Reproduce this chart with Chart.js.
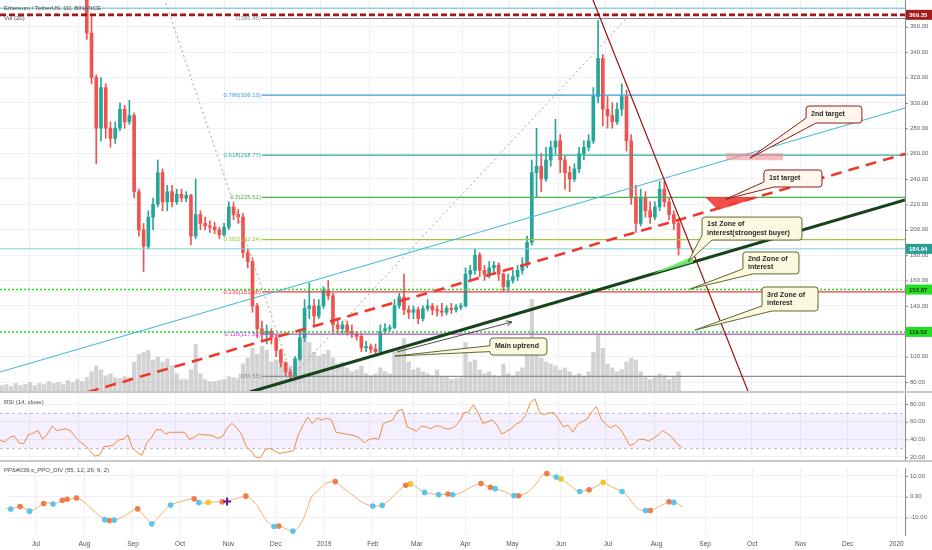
<!DOCTYPE html>
<html><head><meta charset="utf-8">
<script src="https://cdn.jsdelivr.net/npm/chart.js@4.4.1/dist/chart.umd.min.js"></script>
<style>
html,body{margin:0;padding:0;background:#fff;width:932px;height:550px;overflow:hidden}
canvas{position:absolute;left:0}
.sep{position:absolute;left:0;width:932px;height:2px;background:#c9c9c9}
</style></head><body>
<canvas id="main" width="932" height="391" style="top:0"></canvas>
<div class="sep" style="top:391px"></div>
<canvas id="rsi" width="932" height="67" style="top:393px"></canvas>
<div class="sep" style="top:460px"></div>
<canvas id="ppo" width="932" height="88" style="top:462px"></canvas>
<script>
// ---------- DATA ----------
const X_MIN = -19, X_MAX = 554.5;             // days since 2018-07-01
const MONTH_DAYS = [0,31,62,92,123,153,184,215,243,274,304,335,365,396,427,457,488,518,549];
const MONTH_LABELS = ['Jul','Aug','Sep','Oct','Nov','Dec','2019','Feb','Mar','Apr','May','Jun','Jul','Aug','Sep','Oct','Nov','Dec','2020'];
const PRICE_TICKS = [80,100,120,140,160,180,200,220,240,260,280,300,320,340,360];
const P_MIN = 72.95, P_MAX = 381.04;
const RSI_TICKS = [20,40,60,80];
const RSI_MIN = 16.58, RSI_MAX = 92.46;
const PPO_TICKS = [-10,0,10];
const PPO_MIN = -18.37, PPO_MAX = 13.83;

const CANDLE_START = 36, STEP = 3;
const OPEN = [408,355,320,280,312,280,272,280,295,285, 290,230,200,187,210,220,245,222,230,222, 228,225,227,195,212,205,203,202,200,196,
 202,218,212,210,182,175,140,122,118,120, 115,105,95,88,85,98,115,138,140,132, 140,152,148,125,122,125,120,118,116,107,
 108,106,104,120,122,123,140,147,137,135, 137,130,138,140,137,136,135,138,137,139, 140,165,168,180,168,165,170,172,165,155,
 160,163,168,172,190,245,250,240,255,265, 270,255,245,240,248,260,265,270,305,335, 295,290,285,295,305,270,225,205,225,215,
 210,218,232,222,212,205];
const HIGH = [412,368,322,320,315,285,285,300,298,302, 292,232,205,215,225,255,248,235,235,232, 232,230,228,240,215,210,207,206,202,205,
 222,222,216,213,185,178,142,128,125,122, 117,106,96,90,100,120,145,158,145,145, 155,160,150,130,128,128,125,120,118,112,
 110,110,125,126,125,145,150,165,140,140, 139,140,145,142,140,142,140,142,141,142, 170,172,185,182,172,175,175,174,166,165,
 168,172,178,195,255,280,260,265,270,287, 275,258,250,252,265,270,275,312,365,338, 305,300,300,315,310,275,235,232,230,222,
 222,238,238,225,215,207];
const LOW = [350,315,252,270,272,265,268,278,280,283, 225,195,167,185,200,218,215,215,218,220, 222,222,188,193,200,200,198,197,193,195,
 200,208,205,178,170,135,115,112,110,110, 100,92,85,82,83,97,112,130,125,130, 138,145,118,118,118,117,115,113,104,104,
 103,102,103,118,120,122,138,133,130,130, 126,128,136,133,132,132,133,134,135,137, 139,160,165,163,160,162,165,160,152,152,
 158,160,165,170,188,226,230,238,250,260, 245,232,230,238,245,255,262,268,300,282, 280,280,283,290,262,220,198,203,210,205,
 208,215,218,208,200,180];
const CLOSE = [355,320,280,312,280,272,280,295,285,290, 230,200,187,210,220,245,222,230,222,228, 225,227,195,212,205,203,202,200,196,202,
 218,212,210,182,175,140,122,118,120,115, 105,95,88,85,98,115,138,140,132,140, 152,148,125,122,125,120,118,116,107,108,
 106,104,120,122,123,140,147,137,135,137, 130,138,140,137,136,135,138,137,139,140, 165,168,180,168,165,170,172,165,155,160,
 163,168,172,190,245,250,240,255,265,270, 255,245,240,248,260,265,270,305,335,295, 290,285,295,305,270,225,205,225,215,210,
 218,232,222,212,205,184.94];

const VOL_START = -18;
const VOLUME = [6,7,5,8,6,7,9,6,8,7,10,8,9,7,11,9,12,10,
 14,20,26,22,16,18,14,13,15,14, 30,38,40,42,32,35,30,33,26,18, 12,12,22,48,18,12,10,10,11,12, 15,14,13,28,34,44,38,46,42,30,
 32,28,30,26,34,44,58,50,40,36, 38,42,34,28,30,24,20,22,26,18, 16,18,24,20,18,40,44,54,30,22, 24,20,18,16,22,14,15,12,13,14,
 50,30,32,22,18,20,16,15,28,18, 16,20,24,42,94,40,34,30,28,26, 22,24,20,16,18,15,20,40,58,44, 28,24,20,22,30,34,32,20,14,12,
 14,18,16,12,14,20];

const OSC_START = -19;
const RSI = [39,37,42,44,36,35,45,47,50,40, 46,55,50,51,52,49,42,37,33,27, 21,22,32,32,34,39,40,45,30,25,
 22,36,42,51,51,46,48,48,48,48, 40,42,46,45,45,44,41,43,53,58, 53,46,32,27,20,19,28,30,27,24,
 25,26,27,45,56,65,58,64,62,64, 62,48,47,46,45,44,41,36,40,41, 40,58,60,62,72,74,54,52,49,55,
 54,52,55,55,52,52,54,60,70,71, 79,70,58,60,62,56,46,49,52,57, 60,67,81,86,70,68,70,70,63,54,
 56,48,57,60,63,71,77,63,57,53, 56,52,43,33,35,40,40,38,41,45, 50,46,42,35,31];
const PPO = [-5.5,-5.9,-5.2,-4.7,-5.5,-6.9,-6.2,-4.7,-3.2,-2.9, -3.5,-2.8,-1.7,-1.2,-1.0,-0.6,-1.5,-3.2,-5.3,-7.4,
 -9.4,-11,-11.4,-11.2,-10.6,-9.5,-8.1,-6.5,-5.8,-8.2, -10.8,-13,-10.8,-8.4,-5.7,-4,-3.1,-2.4,-1.8,-1.2,
 -1,-2.8,-3.1,-2.6,-2.5,-2.4,-2.4,-2.3,-1.5,-0.8, -0.2,0.3,-1,-3.2,-6.4,-10.1,-13,-14.3,-14.1,-14.9,
 -15.8,-16.5,-15,-11.6,-6,0,2.3,4.4,6.3,7.1, 7.3,5.5,3.7,2,0.4,-1.5,-2.9,-3.9,-4.4,-4.4,
 -4.1,-2.5,-0.5,1.8,3.9,5.5,6.2,5.1,3.4,2.1, 1.6,1.3,1,1.1,1.3,1,1.2,2.2,3.5,4.8,
 5.8,6.4,5.4,4.6,3.9,3.2,2.5,1.5,0.6,0.5, 1.1,2.2,4.4,7,10.3,11.2,10.2,9.5,8.6,7,
 5.4,3.6,2.5,2.9,3.4,4.4,5.7,6.9,5.8,4.6, 3.5,2.5,0.6,-2.2,-5,-6.4,-6.6,-6.6,-5.7,-4.6,
 -3.4,-2.4,-2.7,-3.6,-4.8];
const PPO_BLUE_IDX = [1,5,10,21,23,31,35,41,57,61,78,80,89,92,95,104,108,117,122,131,136,142];
const PPO_ORANGE_IDX = [3,8,12,13,15,22,28,40,46,51,58,70,85,94,101,103,109,115,124,137,141];
const PPO_YELLOW_IDX = [43,86,118,127];
const PPO_CROSS_IDX = [47];

// drawings (day, price)
const H_LEVELS = [374.6, 369.35, 184.94, 152.87, 119.52];
const FIB_RATIOS = ['1','0.786','0.618','0.5','0.382','0.236','0.118','0'];
const FIB_PRICES = [366.46,306.13,258.77,225.51,192.24,151.08,117.82,84.55];
const FIB_START_DAY = 147;
const TREND_CYAN = [[-19,87.9],[554.5,296]];
const TREND_RED = [[36.8,72.2],[554.5,259.8]];
const TREND_GREEN = [[139.4,72.2],[554.5,223.5]];
const TREND_DARKRED = [[356.8,381],[455,72.8]];
const TREND_DOTTED = [[76,416],[166,84.55],[378,366.46]];
const ARROW_UP = [[232.6,103.7],[305.4,127.3]];
const PINK_ZONE = [441.1,260.3,477.2,254.8];
const RED_WEDGE = [[427.8,225.8],[462.6,225.8],[436.0,215.6]];
const GREEN_WEDGE = [[394.2,165.1],[420.2,179.3],[420.2,174.2]];
const CALLOUT_TEXT = [['2nd target'],['1st target'],['1st Zone of','interest(strongest buyer)'],['2nd Zone of','interest'],['3rd Zone of','interest'],['Main uptrend']];
const CALLOUT_BOX = [[491.8,297.5,527.2,284.1],[465.1,247.1,501.9,233.7],[425.9,210.0,489.2,191.9],[451.8,182.5,487.3,165.2],[463.9,154.9,499.4,136.0],[291.5,114.7,327.6,101.3]];
const CALLOUT_TIP = [[456.3,256.5],[441.1,224.2],[417,174.6],[418.3,153.3],[421.4,121.0],[231.3,100.5]];

// ---------- STYLE ----------
const FONT = '"Liberation Sans", Arial, sans-serif';
Chart.defaults.font.family = FONT;
const GRID = '#eef0f5';
const UP = '#26a69a', DOWN = '#ef5350';
const H_STYLE = [
  {c:'#5ab4d6', w:1, d:[]},
  {c:'#a31616', w:2.6, d:[6,3]},
  {c:'#7fcfdc', w:1, d:[]},
  {c:'#1ee01e', w:1.5, d:[2,2]},
  {c:'#1ee01e', w:1.5, d:[2,2]}
];
const FIB_COLORS = ['#8a8d96','#3d9bd8','#2bab98','#4caf50','#a0c83c','#f23645','#c449d6','#8a8d96'];
const AXIS_LABELS = [
  {v:369.35, bg:'#a51c1c', fg:'#ffffff'},
  {v:184.94, bg:'#2a9d94', fg:'#ffffff'},
  {v:152.87, bg:'#22e022', fg:'#143014'},
  {v:119.52, bg:'#22e022', fg:'#143014'}
];

function mkX(){ return {
  type:'linear', min:X_MIN, max:X_MAX, offset:false,
  grid:{color:GRID, drawTicks:false, offset:false},
  border:{display:false}, ticks:{display:false},
  afterBuildTicks:s=>{ s.ticks = MONTH_DAYS.map(v=>({value:v})); },
  afterFit:s=>{ s.height = 0; }
};}
function mkY(min,max,ticks){ return {
  position:'right', min:min, max:max,
  grid:{color:GRID, drawTicks:false},
  border:{display:true, color:'#8c8c8c', width:1},
  ticks:{display:false},
  afterBuildTicks:s=>{ s.ticks = ticks.map(v=>({value:v})); },
  afterFit:s=>{ s.width = 27; }
};}
function txt(ctx,s,x,y,font,color,align,base){
  ctx.font=font; ctx.fillStyle=color; ctx.textAlign=align||'left'; ctx.textBaseline=base||'middle'; ctx.fillText(s,x,y);
}
function axisLabels(ctx, Y, ticks, fmt){
  const x0 = Y.left;
  ticks.forEach(v=>{
    const y = Y.getPixelForValue(v);
    ctx.strokeStyle='#8c8c8c'; ctx.lineWidth=1;
    ctx.beginPath(); ctx.moveTo(x0,y+0.5); ctx.lineTo(x0+3,y+0.5); ctx.stroke();
    txt(ctx, fmt(v), x0+5, y, '6px '+FONT, '#5d606b');
  });
}
function lineDs(pts, color, width, dash, order){
  return {type:'line', data:pts.map(p=>({x:p[0], y:p[1]})), borderColor:color, borderWidth:width,
    borderDash:dash||[], pointRadius:0, fill:false, tension:0, yAxisID:'y', xAxisID:'x', order:order, clip:0};
}

// ---------- MAIN ----------
const candleDays = OPEN.map((_,i)=>CANDLE_START + STEP*i);
const candleColors = OPEN.map((o,i)=> CLOSE[i] >= o ? UP : DOWN);
const mainDatasets = [
  {type:'bar', yAxisID:'yv', xAxisID:'x', data:VOLUME.map((v,i)=>({x:VOL_START+STEP*i, y:v})),
   backgroundColor:'rgba(150,150,150,0.42)', barPercentage:0.9, categoryPercentage:1, grouped:false, order:40, clip:0},
  {type:'bar', yAxisID:'y', xAxisID:'x', data:candleDays.map((d,i)=>({x:d, y:[LOW[i],HIGH[i]]})),
   backgroundColor:candleColors, barThickness:1, grouped:false, order:31, clip:0},
  {type:'bar', yAxisID:'y', xAxisID:'x', data:candleDays.map((d,i)=>({x:d, y:[OPEN[i],CLOSE[i]]})),
   backgroundColor:candleColors, barThickness:3, grouped:false, order:30, clip:0}
];
H_LEVELS.forEach((p,i)=>mainDatasets.push(lineDs([[X_MIN,p],[X_MAX,p]], H_STYLE[i].c, H_STYLE[i].w, H_STYLE[i].d, 12)));
FIB_PRICES.forEach((p,i)=>mainDatasets.push(lineDs([[FIB_START_DAY,p],[X_MAX,p]], FIB_COLORS[i], 1.2, [], 13)));
mainDatasets.push(lineDs(TREND_DOTTED, '#a0a0a0', 1, [2,3], 11));
mainDatasets.push(lineDs(TREND_CYAN, '#45b9d9', 1.1, [], 10));
mainDatasets.push(lineDs(TREND_RED, '#ee3a2c', 2.6, [11,7], 9));
mainDatasets.push(lineDs(TREND_GREEN, '#16431b', 3.2, [], 8));
mainDatasets.push(lineDs(TREND_DARKRED, '#9c1010', 1.2, [], 7));
mainDatasets.push(lineDs(ARROW_UP, '#3a3a3a', 0.9, [], 6));
mainDatasets.push(lineDs([CALLOUT_TIP[5],[305.4,127.3]], 'rgba(0,0,0,0)', 0, [], 6));

function poly(ctx, pts, fx, fy, fill){
  ctx.beginPath();
  pts.forEach((p,i)=>{ const x=fx(p[0]), y=fy(p[1]); if(i===0) ctx.moveTo(x,y); else ctx.lineTo(x,y); });
  ctx.closePath(); ctx.fillStyle=fill; ctx.fill();
}
function callout(ctx,L,T,R,B,ax,ay,side,bg,bd){
  const r=3;
  ctx.beginPath();
  ctx.moveTo(L+r,T);
  ctx.lineTo(R-r,T); ctx.arcTo(R,T,R,T+r,r);
  ctx.lineTo(R,B-r); ctx.arcTo(R,B,R-r,B,r);
  if(side==='left'){
    ctx.lineTo(L+r,B); ctx.arcTo(L,B,L,B-r,r);
    ctx.lineTo(L,T+(B-T)*0.8); ctx.lineTo(ax,ay); ctx.lineTo(L,T+(B-T)*0.45);
  } else {
    ctx.lineTo(L+10,B); ctx.lineTo(ax,ay); ctx.lineTo(L,B-5);
  }
  ctx.lineTo(L,T+r); ctx.arcTo(L,T,L+r,T,r);
  ctx.closePath();
  ctx.fillStyle=bg; ctx.fill();
  ctx.strokeStyle=bd; ctx.lineWidth=1; ctx.stroke();
}

const mainPlugin = {
  id:'mainDeco',
  afterDatasetsDraw(c){
    const ctx=c.ctx, X=c.scales.x, Y=c.scales.y, ca=c.chartArea;
    const fx=d=>X.getPixelForValue(d), fy=p=>Y.getPixelForValue(p);
    ctx.save();
    ctx.beginPath(); ctx.rect(ca.left,ca.top,ca.right-ca.left,ca.bottom-ca.top); ctx.clip();
    // zones
    ctx.fillStyle='rgba(247,140,152,0.6)';
    ctx.fillRect(fx(PINK_ZONE[0]), fy(PINK_ZONE[1]), fx(PINK_ZONE[2])-fx(PINK_ZONE[0]), fy(PINK_ZONE[3])-fy(PINK_ZONE[1]));
    poly(ctx, RED_WEDGE, fx, fy, 'rgba(240,60,55,0.9)');
    poly(ctx, GREEN_WEDGE, fx, fy, 'rgba(110,235,110,0.9)');
    // arrow head
    const ax1=fx(ARROW_UP[0][0]), ay1=fy(ARROW_UP[0][1]), ax2=fx(ARROW_UP[1][0]), ay2=fy(ARROW_UP[1][1]);
    const ang=Math.atan2(ay2-ay1, ax2-ax1);
    ctx.strokeStyle='#3a3a3a'; ctx.lineWidth=0.9;
    ctx.beginPath();
    ctx.moveTo(ax2-6*Math.cos(ang-0.45), ay2-6*Math.sin(ang-0.45)); ctx.lineTo(ax2,ay2);
    ctx.lineTo(ax2-6*Math.cos(ang+0.45), ay2-6*Math.sin(ang+0.45)); ctx.stroke();
    // callouts
    CALLOUT_BOX.forEach((b,i)=>{
      const L=fx(b[0]), T=fy(b[1]), R=fx(b[2]), B=fy(b[3]);
      const tx=fx(CALLOUT_TIP[i][0]), ty=fy(CALLOUT_TIP[i][1]);
      const redish = i<2;
      callout(ctx,L,T,R,B,tx,ty, i===5?'left':'bl', redish?'#fff7ec':'#fdf8e0', redish?'#8e1b1b':'#5b6a2c');
      const lines = CALLOUT_TEXT[i];
      const h = B-T;
      lines.forEach((s,k)=>{
        const y = lines.length===1 ? T+h/2 : T+h/2 + (k-0.5)*8.5;
        txt(ctx, s, L+5, y, 'bold 7px '+FONT, '#2a2a2a');
      });
    });
    // fib labels
    FIB_PRICES.forEach((p,i)=>{
      txt(ctx, FIB_RATIOS[i]+'('+p.toFixed(2)+')', fx(FIB_START_DAY)-1, fy(p), '6px '+FONT, FIB_COLORS[i], 'right');
    });
    ctx.restore();
    // header
    txt(ctx, 'Ethereum / TetherUS, 1D, BINANCE', 4, 8, '6px '+FONT, '#4a4a4a');
    txt(ctx, 'Vol (20)', 4, 18.5, '6px '+FONT, '#4a4a4a');
    // axis labels
    axisLabels(ctx, Y, PRICE_TICKS, v=>v.toFixed(2));
    AXIS_LABELS.forEach(a=>{
      const y=fy(a.v);
      ctx.fillStyle=a.bg; ctx.fillRect(Y.left+1, y-5, 26, 10);
      txt(ctx, a.v.toFixed(2), Y.left+4, y+0.5, 'bold 6px '+FONT, a.fg);
    });
  }
};

new Chart(document.getElementById('main'), {
  type:'bar',
  data:{datasets:mainDatasets},
  options:{
    responsive:false, animation:false, events:[],
    layout:{padding:0},
    plugins:{legend:{display:false}, tooltip:{enabled:false}},
    scales:{x:mkX(), y:mkY(P_MIN,P_MAX,PRICE_TICKS), yv:{display:false, min:0, max:400}}
  },
  plugins:[mainPlugin]
});

// ---------- RSI ----------
const oscDays = RSI.map((_,i)=>OSC_START + STEP*i);
const rsiPlugin = {
  id:'rsiDeco',
  beforeDatasetsDraw(c){
    const ctx=c.ctx, Y=c.scales.y, ca=c.chartArea;
    const y70=Y.getPixelForValue(70), y30=Y.getPixelForValue(30);
    ctx.save();
    ctx.fillStyle='rgba(150,110,235,0.10)';
    ctx.fillRect(ca.left, y70, ca.right-ca.left, y30-y70);
    ctx.strokeStyle='#bdb5d6'; ctx.lineWidth=1; ctx.setLineDash([3,3]);
    [y70,y30].forEach(y=>{ ctx.beginPath(); ctx.moveTo(ca.left,y+0.5); ctx.lineTo(ca.right,y+0.5); ctx.stroke(); });
    ctx.restore();
  },
  afterDraw(c){
    const ctx=c.ctx;
    txt(ctx, 'RSI (14, close)', 4, 9, '6px '+FONT, '#4a4a4a');
    axisLabels(ctx, c.scales.y, RSI_TICKS, v=>v.toFixed(2));
  }
};
new Chart(document.getElementById('rsi'), {
  type:'line',
  data:{datasets:[{data:oscDays.map((d,i)=>({x:d, y:RSI[i]})), borderColor:'#f28a3e', borderWidth:1, pointRadius:0, tension:0, fill:false, clip:0}]},
  options:{
    responsive:false, animation:false, events:[], layout:{padding:0},
    plugins:{legend:{display:false}, tooltip:{enabled:false}},
    scales:{x:mkX(), y:mkY(RSI_MIN,RSI_MAX,RSI_TICKS)}
  },
  plugins:[rsiPlugin]
});

// ---------- PPO ----------
function markers(idx){ return idx.map(i=>({x:OSC_START+STEP*i, y:PPO[i]})); }
const ppoPlugin = {
  id:'ppoDeco',
  afterDraw(c){
    const ctx=c.ctx, X=c.scales.x;
    txt(ctx, 'PP&#039;s_PPO_DIV (55, 12, 26, 9, 2)', 4, 8, '6px '+FONT, '#4a4a4a');
    axisLabels(ctx, c.scales.y, PPO_TICKS, v=>v.toFixed(2));
    MONTH_DAYS.forEach((d,i)=>{
      txt(ctx, MONTH_LABELS[i], X.getPixelForValue(d), 82, '6.5px '+FONT, '#50535e', 'center');
    });
  }
};
new Chart(document.getElementById('ppo'), {
  type:'line',
  data:{datasets:[
    {data:oscDays.map((d,i)=>({x:d, y:PPO[i]})), borderColor:'#f6ad66', borderWidth:1, pointRadius:0, tension:0.4, fill:false, order:5, clip:0},
    {data:markers(PPO_BLUE_IDX), showLine:false, pointRadius:2.8, pointBackgroundColor:'#5ac4ea', pointBorderWidth:0, order:1},
    {data:markers(PPO_ORANGE_IDX), showLine:false, pointRadius:2.8, pointBackgroundColor:'#f07c4a', pointBorderWidth:0, order:1},
    {data:markers(PPO_YELLOW_IDX), showLine:false, pointRadius:2.8, pointBackgroundColor:'#f6c42c', pointBorderWidth:0, order:1},
    {data:markers(PPO_CROSS_IDX), showLine:false, pointRadius:4, pointStyle:'cross', pointBorderColor:'#6a1b9a', pointBorderWidth:2, order:0}
  ]},
  options:{
    responsive:false, animation:false, events:[], layout:{padding:{bottom:15}},
    plugins:{legend:{display:false}, tooltip:{enabled:false}},
    scales:{x:mkX(), y:mkY(PPO_MIN,PPO_MAX,PPO_TICKS)}
  },
  plugins:[ppoPlugin]
});
</script>
</body></html>
